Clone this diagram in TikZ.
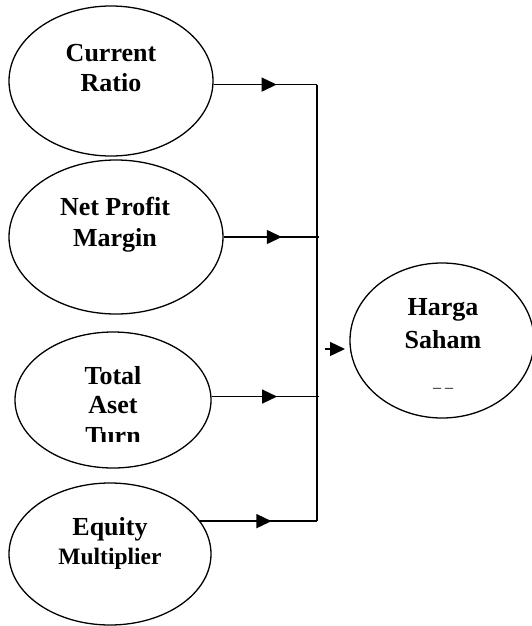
\documentclass[tikz,border=0pt]{standalone}
\usepackage{fontspec}
\setmainfont{Liberation Serif}
\usetikzlibrary{shapes.geometric,arrows.meta,decorations.markings}
\begin{document}
\begin{tikzpicture}[x=1pt,y=-1pt,
  oval/.style={draw,ellipse,line width=1.3pt,inner sep=0pt},
  lbl/.style={anchor=base,inner sep=0pt,font=\bfseries\fontsize{26}{31}\selectfont},
  lbls/.style={anchor=base,inner sep=0pt,font=\bfseries\fontsize{23.5}{28}\selectfont},
  conn/.style={line width=1.3pt,postaction={decorate},
    decoration={markings,mark=at position 0.61 with {\arrow{Triangle[length=15pt,width=14pt]}}}},
  busline/.style={line width=1.3pt}]
\useasboundingbox (0,0) rectangle (532,626);
% ellipses
\node[oval,minimum width=204pt,minimum height=150pt] (e1) at (111,81) {};
\node[oval,minimum width=214pt,minimum height=154pt] (e2) at (116,237) {};
\node[oval,minimum width=196pt,minimum height=136pt] (e3) at (113,400) {};
\node[oval,minimum width=202pt,minimum height=142pt] (e4) at (110,554) {};
\node[oval,minimum width=184pt,minimum height=155pt] (e5) at (442,340.5) {};
% texts
\node[lbl] (t1a) at (111,62) {Current};
\node[lbl] (t1b) at (111,92) {Ratio};
\node[lbl] (t2a) at (115,215) {Net Profit};
\node[lbl] (t2b) at (115,246) {Margin};
\node[lbl] (t3a) at (113,384) {Total};
\node[lbl] (t3b) at (113,413) {Aset};
\begin{scope}
  \clip (0,420) rectangle (300,441.5);
  \node[lbl] (t3c) at (113,444) {Turn};
\end{scope}
\node[lbl] (t4a) at (110,535) {Equity};
\node[lbls] (t4b) at (110,564) {Multiplier};
\node[lbl] (t5a) at (443,315) {Harga};
\node[lbl] (t5b) at (443,348) {Saham};
\node[anchor=base,inner sep=0pt,font=\fontsize{16}{18}\selectfont] (t5c) at (443,392) {– –};
% bus
\coordinate (bus) at (317,0);
\draw[conn] (e1.-2.8) -- (e1.-2.8 -| bus);
\draw[conn] (e2.east) -- ([xshift=2pt]e2.east -| bus);
\draw[conn] (e3.2.3) -- ([xshift=2pt]e3.2.3 -| bus);
\draw[conn] (e4.20.3) -- (e4.20.3 -| bus);
\draw[busline] (bus |- e1.-2.8) -- (bus |- e4.20.3);
% arrow to Harga Saham
\coordinate (h0) at (325,349);
\coordinate (h1) at (345,349);
\draw[line width=1.3pt,-{Triangle[length=15pt,width=14pt]}] (h0) -- (h1);
\end{tikzpicture}
\end{document}
